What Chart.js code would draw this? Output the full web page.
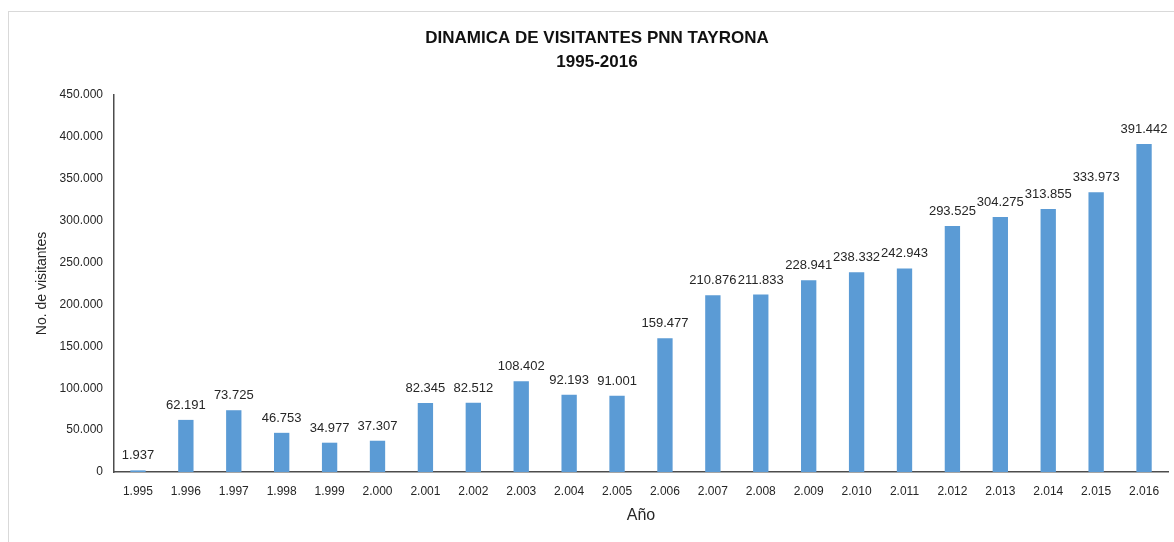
<!DOCTYPE html>
<html>
<head>
<meta charset="utf-8">
<script src="https://cdn.jsdelivr.net/npm/chart.js@4/dist/chart.umd.min.js"></script>
<style>
    html, body { margin: 0; padding: 0; background: #fff; }
    #wrap { width: 1174px; height: 542px; }
</style>
</head>
<body>
<div id="wrap"><canvas id="visitantes-chart"></canvas></div>
<script>
const anios = ['1.995', '1.996', '1.997', '1.998', '1.999', '2.000', '2.001', '2.002', '2.003', '2.004', '2.005',
               '2.006', '2.007', '2.008', '2.009', '2.010', '2.011', '2.012', '2.013', '2.014', '2.015', '2.016'];
const visitantes = [1937, 62191, 73725, 46753, 34977, 37307, 82345, 82512, 108402, 92193, 91001,
                    159477, 210876, 211833, 228941, 238332, 242943, 293525, 304275, 313855, 333973, 391442];
const titulo = ['DINAMICA DE VISITANTES PNN TAYRONA', '1995-2016'];

const canvas = document.getElementById('visitantes-chart');
const FONT = "'Liberation Sans', Arial, sans-serif";
const TEXTO = '#262626';

// 12345 -> "12.345"
function miles(v) {
    return String(Math.round(v)).replace(/\B(?=(\d{3})+(?!\d))/g, '.');
}

// marco gris claro alrededor del grafico
const marco = {
    id: 'marco',
    beforeDraw(chart) {
        const ctx = chart.ctx;
        ctx.save();
        ctx.fillStyle = '#fff';
        ctx.fillRect(0, 0, chart.width, chart.height);
        ctx.strokeStyle = '#d9d9d9';
        ctx.lineWidth = 1;
        ctx.strokeRect(8.5, 11.5, chart.width + 20, chart.height + 20);
        ctx.restore();
    }
};

// etiquetas de valor encima de cada barra
const etiquetas = {
    id: 'etiquetas',
    afterDatasetsDraw(chart) {
        const ctx = chart.ctx;
        const meta = chart.getDatasetMeta(0);
        ctx.save();
        ctx.font = '13px ' + FONT;
        ctx.fillStyle = TEXTO;
        ctx.textAlign = 'center';
        ctx.textBaseline = 'alphabetic';
        meta.data.forEach((bar, i) => {
            ctx.fillText(miles(chart.data.datasets[0].data[i]), bar.x, bar.y - 11);
        });
        ctx.restore();
    }
};

new Chart(canvas, {
    type: 'bar',
    data: {
        labels: anios,
        datasets: [{
            label: 'Visitantes',
            data: visitantes,
            backgroundColor: '#5b9bd5',
            borderWidth: 0,
            barPercentage: 0.32,
            categoryPercentage: 1
        }]
    },
    options: {
        responsive: true,
        maintainAspectRatio: false,
        animation: false,
        layout: {
            padding: { left: 26, right: 6, top: 0, bottom: 0 }
        },
        plugins: {
            legend: { display: false },
            tooltip: { enabled: false },
            title: {
                display: true,
                text: titulo,
                color: '#111',
                font: { family: FONT, size: 17, weight: 'bold', lineHeight: 1.41 },
                padding: { top: 26, bottom: 21 }
            }
        },
        scales: {
            x: {
                grid: { display: false, drawTicks: false },
                border: { display: true, color: '#4d4d4d', width: 1.5 },
                ticks: {
                    color: TEXTO,
                    font: { family: FONT, size: 12 },
                    padding: 12,
                    maxRotation: 0,
                    autoSkip: false
                },
                title: {
                    display: true,
                    text: 'Año',
                    color: TEXTO,
                    font: { family: FONT, size: 16 },
                    padding: { top: 4, bottom: 17 }
                },
                afterFit(scale) { scale.height = 70; }
            },
            y: {
                min: 0,
                max: 450000,
                grid: { display: false, drawTicks: false },
                border: { display: true, color: '#4d4d4d', width: 1.5 },
                ticks: {
                    stepSize: 50000,
                    color: TEXTO,
                    font: { family: FONT, size: 12 },
                    padding: 11,
                    callback: (v) => miles(v)
                },
                title: {
                    display: true,
                    text: 'No. de visitantes',
                    color: TEXTO,
                    font: { family: FONT, size: 14 },
                    padding: { top: 8, bottom: 4 }
                },
                afterFit(scale) { scale.width = 88; }
            }
        }
    },
    plugins: [marco, etiquetas]
});
</script>
</body>
</html>
